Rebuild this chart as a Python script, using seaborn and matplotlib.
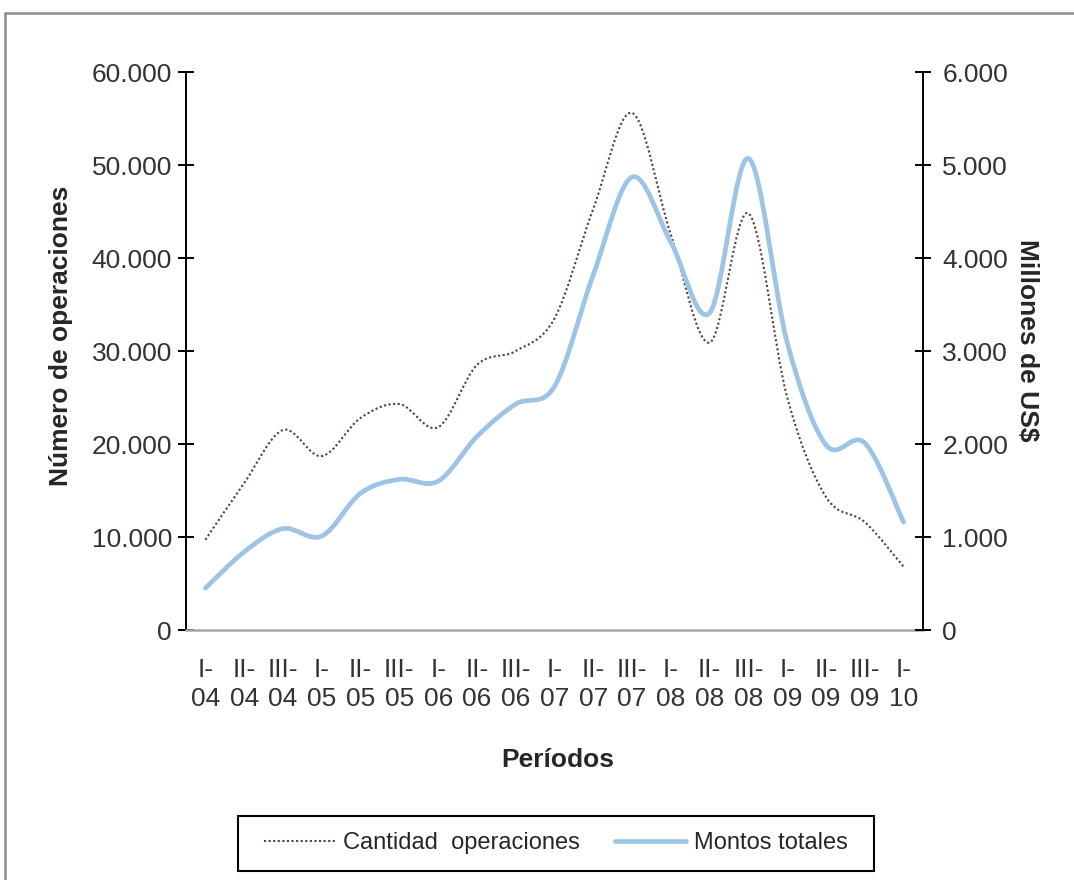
import matplotlib
matplotlib.use("Agg")
import matplotlib.pyplot as plt
import seaborn as sns
from matplotlib.path import Path
from matplotlib.patches import PathPatch, Rectangle
from matplotlib.lines import Line2D
from matplotlib.ticker import FuncFormatter

# data
periodos = ["I-\n04", "II-\n04", "III-\n04", "I-\n05", "II-\n05", "III-\n05", "I-\n06",
            "II-\n06", "III-\n06", "I-\n07", "II-\n07", "III-\n07", "I-\n08", "II-\n08",
            "III-\n08", "I-\n09", "II-\n09", "III-\n09", "I-\n10"]
cantidad = [9700, 15800, 21500, 18700, 22800, 24300, 21800, 28500, 30000, 33500,
            45300, 55600, 42500, 30900, 44800, 25000, 14300, 11600, 6800]
montos = [450, 840, 1090, 1010, 1470, 1620, 1600, 2080, 2430, 2620,
          3820, 4870, 4170, 3410, 5070, 3090, 1990, 2010, 1160]

sns.set_style("white")
plt.rcParams["font.family"] = ["Liberation Sans", "DejaVu Sans"]


def smooth_path(xs, ys):
    # Excel-like smoothed line: cubic bezier through every data point
    n = len(xs)
    verts = [(xs[0], ys[0])]
    codes = [Path.MOVETO]
    for i in range(n - 1):
        x0, y0 = xs[i], ys[i]
        x1, y1 = xs[i + 1], ys[i + 1]
        xa, ya = xs[max(i - 1, 0)], ys[max(i - 1, 0)]
        xb, yb = xs[min(i + 2, n - 1)], ys[min(i + 2, n - 1)]
        c1 = (x0 + (x1 - xa) / 6, y0 + (y1 - ya) / 6)
        c2 = (x1 - (xb - x0) / 6, y1 - (yb - y0) / 6)
        verts += [c1, c2, (x1, y1)]
        codes += [Path.CURVE4] * 3
    return Path(verts, codes)


fig = plt.figure(figsize=(10.74, 8.8), dpi=100)
ax = fig.add_axes([186 / 1074, 1 - 630 / 880, 737 / 1074, 558 / 880])
ax2 = ax.twinx()

xs = list(range(len(periodos)))
dot_color = "#5a3b3b"
blue = "#9dc3e6"

ax.add_patch(PathPatch(smooth_path(xs, cantidad), fill=False, edgecolor=dot_color,
                       linewidth=1.5, linestyle=(0, (1, 1.2)), zorder=3))
ax2.add_patch(PathPatch(smooth_path(xs, montos), fill=False, edgecolor=blue,
                        linewidth=3.4, capstyle="round", zorder=2))

ax.set_xlim(-0.5, len(periodos) - 0.5)
ax.set_ylim(0, 60000)
ax2.set_ylim(0, 6000)
ax.set_yticks(range(0, 60001, 10000))
ax2.set_yticks(range(0, 6001, 1000))

fmt = FuncFormatter(lambda v, p: f"{int(v):,}".replace(",", "."))
ax.yaxis.set_major_formatter(fmt)
ax2.yaxis.set_major_formatter(fmt)

# category labels sit between tick marks
ax.set_xticks([x + 0.5 for x in xs[:-1]])
ax.set_xticklabels([])
ax.set_xticks(xs, minor=True)
ax.set_xticklabels(periodos, minor=True, fontsize=19, color="#333333", linespacing=1.3)
ax.tick_params(axis="x", which="major", direction="inout", length=12, width=1.3,
               color="#999999")
ax.tick_params(axis="x", which="minor", length=0, pad=20)

ax.tick_params(axis="y", direction="inout", length=12, width=1.4, color="black",
               labelsize=19, labelcolor="#333333", pad=4)
ax2.tick_params(axis="y", direction="inout", length=12, width=1.4, color="black",
                labelsize=19, labelcolor="#333333", pad=8)

for a in (ax, ax2):
    for s in a.spines.values():
        s.set_visible(False)
ax.spines["left"].set_visible(True)
ax.spines["left"].set_color("black")
ax.spines["left"].set_linewidth(1.4)
ax2.spines["right"].set_visible(True)
ax2.spines["right"].set_color("black")
ax2.spines["right"].set_linewidth(1.4)
ax.spines["bottom"].set_visible(True)
ax.spines["bottom"].set_color("#a6a6a6")
ax.spines["bottom"].set_linewidth(1.8)

ax.set_ylabel("Número de operaciones", fontsize=19, fontweight="bold")
ax.yaxis.set_label_coords(-0.153, 0.527)
ax2.set_ylabel("Millones de US$", fontsize=19, fontweight="bold", rotation=270)
ax2.yaxis.set_label_coords(1.158, 0.52)
ax.set_xlabel("Períodos", fontsize=19, fontweight="bold")
ax.xaxis.set_label_coords(0.505, -0.211)

# legend with a plain box like the original
handles = [Line2D([], [], color=dot_color, linewidth=1.5, linestyle=(0, (1, 1.2))),
           Line2D([], [], color=blue, linewidth=3.4)]
fig.legend(handles, ["Cantidad  operaciones", "Montos totales"], loc="center",
           bbox_to_anchor=(556 / 1074, 1 - 843 / 880), ncol=2, frameon=False,
           fontsize=17, handlelength=3.0, handletextpad=0.35, columnspacing=1.5)
fig.add_artist(Rectangle((238 / 1074, 1 - 871 / 880), 636 / 1074, 55 / 880,
                         transform=fig.transFigure, fill=False, edgecolor="black",
                         linewidth=1.5))

# outer border of the figure region
fig.add_artist(Rectangle((5 / 1074, -0.1), 1.2, 1 - 13 / 880 + 0.1,
                         transform=fig.transFigure, fill=False, edgecolor="#8c8c8c",
                         linewidth=1.8))

fig.savefig("out.png", dpi=100)
